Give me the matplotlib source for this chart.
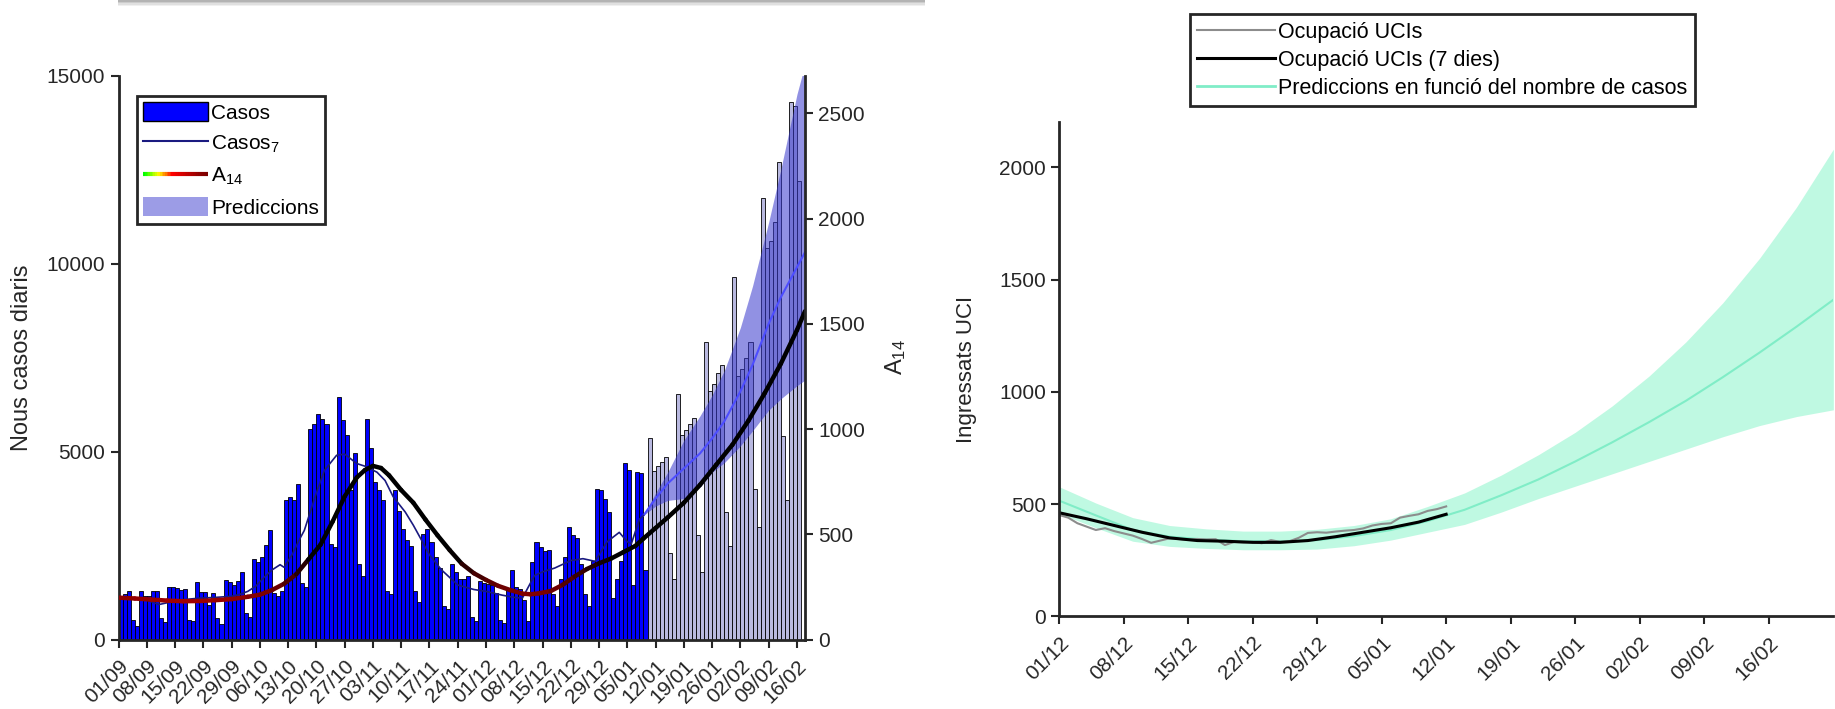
import numpy as np
import matplotlib
matplotlib.use("Agg")
import matplotlib.pyplot as plt
from matplotlib.collections import LineCollection
from matplotlib.colors import LinearSegmentedColormap
from matplotlib.legend_handler import HandlerBase
from matplotlib.patches import Patch, Rectangle
from matplotlib.lines import Line2D

plt.rcParams["font.family"] = ["Liberation Sans", "DejaVu Sans"]
plt.rcParams["mathtext.fontset"] = "custom"
plt.rcParams["mathtext.rm"] = "Liberation Sans"
plt.rcParams["mathtext.it"] = "Liberation Sans:italic"

# ---- data: left panel (daily cases from 01/09) ----
casos_obs = [
    1150, 1220, 1300, 530, 370, 1300, 1150,
    1150, 1280, 1280, 560, 470, 1390, 1390,
    1370, 1330, 1350, 530, 490, 1520, 1270,
    1260, 930, 1240, 560, 420, 1570, 1530,
    1460, 1550, 1800, 710, 590, 2140, 2060,
    2190, 2520, 2920, 1250, 1150, 1300, 3720,
    3790, 3720, 4130, 1500, 1400, 5600, 5720,
    6000, 5870, 5720, 2550, 2450, 6460, 5830,
    5450, 3970, 4960, 2000, 1700, 5870, 5100,
    4200, 3970, 3700, 1300, 1200, 3970, 3430,
    2950, 2650, 2500, 1300, 1000, 2800, 2950,
    2600, 2200, 1900, 900, 800, 2000, 1800,
    1600, 1600, 1700, 600, 500, 1550, 1500,
    1480, 1450, 1250, 520, 430, 1350, 1850,
    1400, 1350, 1050, 480, 2050, 2600, 2450,
    2350, 2380, 1200, 900, 1600, 2200, 2990,
    2780, 2710, 2000, 1200, 900, 2100, 4010,
    3970, 3750, 3400, 1100, 1600, 2100, 4690,
    4520, 1450, 4460, 4430, 1840,
]
casos_post = [
    5360, 4490, 4610, 4725, 4860, 2290, 1600,
    6540, 5430, 5580, 5740, 5900, 2770, 1800,
    7900, 6620, 6800, 7100, 7300, 3400, 2500,
    9650, 7000, 7200, 7500, 7900, 4000, 3000,
    11750, 10400, 10600, 11100, 12700, 5400, 3700,
    14300, 14200, 12200,
]

c7_dias = [0, 3, 7, 10, 13, 16, 20, 24, 28, 30, 32, 34, 36, 38, 40, 41, 43, 45, 46,
           49, 51, 54, 56, 59, 61, 64, 66, 68, 71, 73, 75, 77, 80, 84, 88, 91, 95,
           98, 100, 101, 103, 105, 108, 112, 115, 118, 121, 124, 126, 127, 129, 130]
c7_vals = [1100, 1080, 1050, 930, 1000, 1060, 1100, 1120, 1150, 1200, 1280, 1420,
           1650, 1850, 1990, 1920, 2260, 2700, 2900, 3900, 4500, 4900, 4930, 4680,
           4610, 4450, 4230, 3800, 3390, 3040, 2650, 2250, 1850, 1450, 1330, 1280,
           1180, 1120, 1100, 1300, 1700, 1800, 1900, 2100, 2150, 2080, 2600, 2850,
           2600, 2550, 3200, 3300]

a14_dias = [0, 4, 8, 12, 16, 20, 24, 28, 32, 35, 38, 41, 44, 47, 50, 53, 56, 59, 61,
            63, 65, 67, 70, 73, 76, 79, 82, 85, 88, 91, 94, 97, 100, 102, 104, 107,
            110, 113, 116, 119, 122, 125, 128, 130, 133, 136, 140, 144, 148, 152,
            156, 160, 164, 168, 170]
a14_vals = [199, 195, 190, 185, 182, 183, 187, 192, 203, 213, 235, 265, 310, 380,
            450, 560, 680, 770, 805, 825, 815, 780, 710, 650, 570, 495, 425, 360,
            315, 283, 255, 235, 218, 215, 219, 230, 260, 300, 335, 362, 385, 415,
            445, 480, 530, 580, 650, 735, 830, 925, 1040, 1170, 1310, 1470, 1560]

pred_dias = [130, 133, 136, 140, 144, 147, 150, 154, 157, 161, 164, 168, 170]
pred_med = [3300, 3750, 4150, 4550, 4950, 5350, 5800, 6600, 7300, 8400, 9100, 9900, 10300]
pred_sup = [3300, 3900, 4450, 5300, 5950, 6500, 7150, 8300, 9400, 11100, 12500, 14500, 15300]
pred_inf = [3300, 3550, 3700, 3750, 4050, 4450, 4700, 5150, 5550, 6100, 6400, 6750, 6900]

xlabels_l = ["01/09", "08/09", "15/09", "22/09", "29/09", "06/10", "13/10", "20/10",
             "27/10", "03/11", "10/11", "17/11", "24/11", "01/12", "08/12", "15/12",
             "22/12", "29/12", "05/01", "12/01", "19/01", "26/01", "02/02", "09/02",
             "16/02"]

# ---- data: right panel (ICU, days from 01/12) ----
uci_vals = [452, 440, 415, 400, 385, 393, 380, 370, 360, 345, 328, 338, 348, 345,
            342, 345, 343, 344, 318, 332, 330, 332, 326, 340, 332, 335, 350, 372,
            375, 373, 378, 382, 385, 392, 405, 412, 415, 440, 448, 455, 470, 478, 490]
uci7_dias = [0, 3, 6, 9, 12, 15, 18, 21, 24, 27, 30, 33, 36, 39, 42]
uci7_vals = [462, 435, 405, 375, 350, 338, 335, 330, 330, 338, 355, 375, 395, 420, 455]

upred_dias = [0, 4, 8, 12, 16, 20, 24, 28, 32, 36, 40, 44, 48, 52, 56, 60, 64, 68,
              72, 76, 80, 84]
upred_med = [516, 450, 385, 355, 342, 335, 335, 340, 358, 385, 425, 475, 540, 610,
             690, 775, 865, 960, 1065, 1175, 1290, 1410]
upred_sup = [578, 505, 440, 405, 390, 380, 380, 388, 405, 435, 490, 550, 630, 720,
             820, 937, 1070, 1222, 1396, 1595, 1822, 2080]
upred_inf = [459, 395, 335, 312, 303, 297, 297, 300, 315, 340, 375, 410, 465, 525,
             580, 635, 690, 745, 800, 850, 890, 920]

xlabels_r = ["01/12", "08/12", "15/12", "22/12", "29/12", "05/01", "12/01", "19/01",
             "26/01", "02/02", "09/02", "16/02"]

axcol = (0.15, 0.15, 0.15)
cmap_a14 = LinearSegmentedColormap.from_list(
    "a14", [(0, (0, 1, 0)), (0.1, (1, 1, 0)), (0.2, (1, 0, 0)),
            (0.4, (0.55, 0, 0)), (0.8, (0, 0, 0)), (1, (0, 0, 0))])


class GradHandler(HandlerBase):
    # gradient line for the A14 legend entry
    def create_artists(self, legend, orig, xd, yd, width, height, fontsize, trans):
        xs = np.linspace(-xd, width - xd, 40)
        ys = np.full_like(xs, height / 2 - yd)
        pts = np.column_stack([xs, ys])
        segs = np.stack([pts[:-1], pts[1:]], axis=1)
        lc = LineCollection(segs, cmap=cmap_a14, norm=plt.Normalize(0, 1),
                            linewidths=3, transform=trans)
        lc.set_array(np.linspace(0.0, 0.45, 39))
        return [lc]


fig = plt.figure(figsize=(18.35, 7.09), dpi=100)

# screenshot shadow strip at the top
for i, g in enumerate([0.70, 0.80, 0.88, 0.94]):
    fig.patches.append(Rectangle((118 / 1835, 1 - (i + 1) * 1.6 / 709), 807 / 1835,
                                 1.6 / 709, transform=fig.transFigure,
                                 facecolor=(g, g, g), edgecolor="none"))

ax = fig.add_axes([0.0646, 0.098, 0.3741, 0.7955])
ax2 = ax.twinx()
axr = fig.add_axes([0.5771, 0.1305, 0.422, 0.697])

# left panel
dias_obs = np.arange(len(casos_obs))
dias_post = np.arange(len(casos_obs), len(casos_obs) + len(casos_post))
ax.bar(dias_obs, casos_obs, width=1, align="edge", color="#0000ff",
       edgecolor="black", linewidth=0.6)
ax.bar(dias_post, casos_post, width=1, align="edge", color="#b9b9e0",
       edgecolor="black", linewidth=0.6)
ax.fill_between(pred_dias, pred_inf, pred_sup, color=(0.22, 0.22, 0.8), alpha=0.55,
                linewidth=0)
ax.plot(pred_dias, pred_med, color=(0.3, 0.3, 1.0), lw=1.5)
ax.plot(c7_dias, c7_vals, color=(0.1, 0.1, 0.5), lw=1.2)

pts = np.column_stack([a14_dias, a14_vals])
segs = np.stack([pts[:-1], pts[1:]], axis=1)
va = np.array(a14_vals, dtype=float)
lc = LineCollection(segs, cmap=cmap_a14, norm=plt.Normalize(0, 500), linewidths=3.2,
                    capstyle="round")
lc.set_array((va[:-1] + va[1:]) / 2)
ax2.add_collection(lc)

ax.set_xlim(0, 170)
ax.set_ylim(0, 15000)
ax2.set_ylim(0, 2680)
ax.set_yticks([0, 5000, 10000, 15000])
ax2.set_yticks(np.arange(0, 2501, 500))
ax.set_xticks(np.arange(0, 7 * len(xlabels_l), 7))
ax.set_xticklabels(xlabels_l, rotation=45, ha="right", va="top", rotation_mode="anchor")
ax.set_ylabel("Nous casos diaris", fontsize=17, color=axcol)
ax.yaxis.set_label_coords(-0.1245, 0.5)
ax2.set_ylabel(r"$\mathregular{A_{14}}$", fontsize=17, color=axcol)
ax2.yaxis.set_label_coords(1.1136, 0.5)

h_casos = Patch(facecolor="#0000ff", edgecolor="black")
h_c7 = Line2D([], [], color=(0.1, 0.1, 0.5), lw=1.5)
h_pred = Patch(facecolor=(0.61, 0.61, 0.9), edgecolor="none")
leg = ax2.legend([h_casos, h_c7, lc, h_pred],
                 ["Casos", r"$\mathregular{Casos_7}$", r"$\mathregular{A_{14}}$", "Prediccions"],
                 handler_map={lc: GradHandler()}, loc="upper left",
                 bbox_to_anchor=(0.027, 0.964), borderaxespad=0, fancybox=False,
                 edgecolor=axcol, framealpha=1, fontsize=15, handlelength=3.1,
                 handleheight=1.0, labelspacing=0.5, handletextpad=0.15, borderpad=0.3)
leg.get_frame().set_linewidth(2)

# right panel
axr.fill_between(upred_dias, upred_inf, upred_sup, color=(0.45, 0.95, 0.75),
                 alpha=0.45, linewidth=0)
l_pred, = axr.plot(upred_dias, upred_med, color=(0.5, 0.93, 0.78), lw=1.5)
l_gray, = axr.plot(np.arange(len(uci_vals)), uci_vals, color=(0.55, 0.55, 0.55), lw=1.5)
l_black, = axr.plot(uci7_dias, uci7_vals, color="black", lw=2.2)
axr.set_xlim(0, 84)
axr.set_ylim(0, 2200)
axr.set_yticks(np.arange(0, 2001, 500))
axr.set_xticks(np.arange(0, 7 * len(xlabels_r), 7))
axr.set_xticklabels(xlabels_r, rotation=45, ha="right", va="top", rotation_mode="anchor")
axr.set_ylabel("Ingressats UCI", fontsize=16, color=axcol)
axr.yaxis.set_label_coords(-0.106, 0.5)

legr = fig.legend([l_gray, l_black, l_pred],
                  ["Ocupació UCIs", "Ocupació UCIs (7 dies)",
                   "Prediccions en funció del nombre de casos"],
                  loc="upper center", bbox_to_anchor=(0.786, 0.995), fancybox=False,
                  edgecolor=axcol, framealpha=1, fontsize=15.5, handlelength=3.6,
                  labelspacing=0.32, handletextpad=0.15, borderpad=0.35)
legr.get_frame().set_linewidth(2)
legr.get_lines()[2].set_linewidth(2)

# axis styling
for a in (ax, ax2, axr):
    a.spines["top"].set_visible(False)
    for s in a.spines.values():
        s.set_linewidth(2)
        s.set_color(axcol)
    a.tick_params(direction="out", length=6, width=1.5, labelsize=15, colors=axcol)
for a in (ax, axr):
    a.tick_params(axis="x", pad=6)
ax.spines["right"].set_visible(False)
ax2.spines["left"].set_visible(False)
ax2.spines["bottom"].set_visible(False)
axr.spines["right"].set_visible(False)

fig.savefig("out.png", dpi=100)
